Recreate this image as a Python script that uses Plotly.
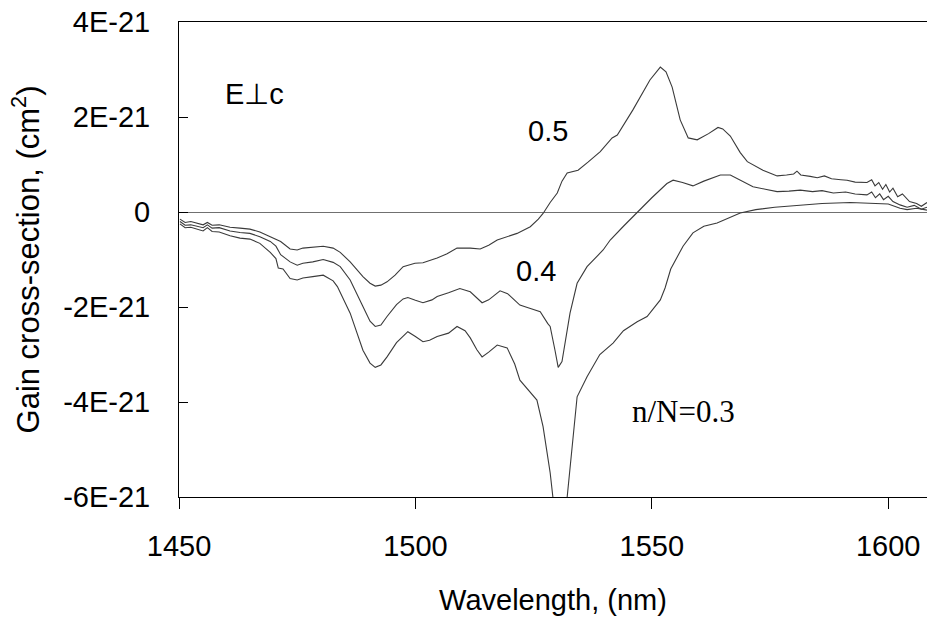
import plotly.graph_objects as go

# Wavelength (nm) and gain cross-section (units of 1E-21 cm^2)
wl_05 = [1450.2, 1451.3, 1452.5, 1454.0, 1455.1, 1456.0, 1457.0, 1458.5, 1460.8, 1462.9,
         1465.0, 1467.1, 1469.3, 1471.5, 1473.5, 1475.0, 1476.2, 1478.3, 1480.5, 1482.6,
         1484.1, 1486.2, 1488.9, 1490.4, 1491.5, 1492.7, 1494.0, 1495.7, 1497.4, 1499.9,
         1501.6, 1504.6, 1506.7, 1508.8, 1511.6, 1513.7, 1515.5, 1517.3, 1519.4, 1521.5,
         1524.3, 1526.0, 1527.0, 1528.5, 1530.0, 1531.0, 1532.1, 1533.5, 1534.4, 1536.5,
         1539.1, 1541.6, 1542.7, 1546.0, 1549.0, 1549.6, 1551.8, 1553.0, 1554.3, 1556.0,
         1557.7, 1559.6, 1562.0, 1564.0, 1565.0, 1566.6, 1568.7, 1570.2, 1573.5, 1576.5,
         1578.5, 1580.0, 1580.7, 1581.5, 1583.5, 1585.0, 1586.5, 1588.0, 1590.0, 1591.3,
         1593.0, 1595.5, 1596.5, 1597.2, 1598.0, 1598.8, 1599.5, 1600.3, 1601.0, 1602.0,
         1603.0, 1604.5, 1606.0, 1607.0, 1608.2]
g_05 = [-0.15, -0.22, -0.20, -0.24, -0.27, -0.22, -0.28, -0.27, -0.32, -0.34,
        -0.36, -0.42, -0.52, -0.62, -0.78, -0.80, -0.76, -0.74, -0.72, -0.76,
        -0.85, -1.05, -1.36, -1.50, -1.56, -1.54, -1.47, -1.33, -1.15, -1.08,
        -1.07, -0.97, -0.88, -0.76, -0.76, -0.78, -0.70, -0.59, -0.52, -0.45,
        -0.31, -0.15, -0.03, 0.20, 0.40, 0.65, 0.82, 0.85, 0.88, 1.05,
        1.27, 1.56, 1.62, 2.15, 2.65, 2.78, 3.05, 2.95, 2.63, 1.94,
        1.56, 1.52, 1.65, 1.78, 1.75, 1.60, 1.25, 1.06, 0.88, 0.76,
        0.78, 0.80, 0.86, 0.78, 0.75, 0.72, 0.76, 0.70, 0.68, 0.67,
        0.63, 0.62, 0.68, 0.55, 0.62, 0.48, 0.58, 0.42, 0.50, 0.32,
        0.38, 0.22, 0.18, 0.12, 0.20]

wl_04 = [1450.2, 1451.3, 1452.5, 1454.0, 1455.1, 1456.0, 1457.0, 1458.5, 1460.8, 1462.9,
         1465.0, 1467.1, 1469.3, 1470.5, 1471.5, 1473.5, 1475.0, 1476.2, 1478.3, 1480.5,
         1482.6, 1484.1, 1486.2, 1488.9, 1490.4, 1491.5, 1492.7, 1494.0, 1496.0, 1497.4,
         1498.4, 1500.0, 1501.6, 1503.5, 1504.6, 1507.0, 1509.4, 1511.6, 1513.0, 1514.1,
         1515.5, 1517.9, 1519.5, 1521.5, 1522.1, 1524.0, 1526.4, 1528.0, 1528.5, 1529.5,
         1530.2, 1531.0, 1531.7, 1532.7, 1534.2, 1536.3, 1539.7, 1541.2, 1544.0, 1546.9,
         1550.0, 1553.2, 1554.5, 1556.5, 1558.7, 1561.0, 1564.5, 1566.6, 1569.0, 1571.4,
         1574.0, 1576.5, 1579.0, 1581.4, 1584.0, 1586.0, 1588.4, 1591.0, 1593.0, 1595.5,
         1596.5, 1597.3, 1598.2, 1599.0, 1600.0, 1601.0, 1602.5, 1604.0, 1605.5, 1607.0,
         1608.2]
g_04 = [-0.20, -0.28, -0.27, -0.30, -0.33, -0.27, -0.34, -0.33, -0.40, -0.43,
        -0.45, -0.52, -0.62, -0.72, -0.90, -1.05, -1.12, -1.08, -1.05, -1.00,
        -1.06, -1.15, -1.43, -1.99, -2.30, -2.41, -2.38, -2.20, -1.95, -1.83,
        -1.80, -1.86, -1.91, -1.85, -1.78, -1.70, -1.61, -1.68, -1.82, -1.91,
        -1.85, -1.66, -1.72, -1.90, -1.96, -2.02, -2.10, -2.35, -2.41, -2.90,
        -3.27, -3.15, -2.70, -2.13, -1.50, -1.15, -0.80, -0.59, -0.30, 0.00,
        0.30, 0.60, 0.67, 0.62, 0.55, 0.65, 0.78, 0.78, 0.65, 0.53,
        0.48, 0.43, 0.44, 0.46, 0.43, 0.45, 0.40, 0.42, 0.38, 0.36,
        0.42, 0.30, 0.38, 0.26, 0.33, 0.22, 0.15, 0.10, 0.14, 0.06,
        0.10]

wl_03 = [1450.2, 1451.3, 1452.5, 1454.0, 1455.1, 1456.0, 1457.0, 1458.5, 1460.8, 1462.9,
         1465.0, 1467.1, 1469.3, 1470.5, 1471.0, 1472.0, 1473.5, 1475.0, 1476.2, 1478.3,
         1480.5, 1482.6, 1483.5, 1486.2, 1488.9, 1490.4, 1491.5, 1492.7, 1494.0, 1496.0,
         1498.4, 1500.0, 1501.6, 1503.0, 1504.6, 1507.0, 1508.8, 1510.5, 1511.6, 1513.0,
         1514.1, 1515.5, 1517.3, 1519.4, 1521.0, 1522.1, 1523.8, 1525.7, 1527.0, 1528.5,
         1529.3, 1530.0, 1530.6, 1531.2, 1532.1, 1534.2, 1536.3, 1539.0, 1541.8, 1544.0,
         1546.9, 1549.0, 1551.8, 1552.8, 1554.0, 1556.6, 1558.7, 1561.0, 1563.8, 1568.7,
         1572.0, 1576.0, 1581.4, 1586.0, 1592.0, 1595.5, 1598.0, 1600.0, 1602.5, 1604.0,
         1606.0, 1608.2]
g_03 = [-0.25, -0.33, -0.32, -0.36, -0.40, -0.33, -0.41, -0.42, -0.50, -0.55,
        -0.57, -0.66, -0.85, -0.98, -1.18, -1.20, -1.40, -1.43, -1.39, -1.36,
        -1.33, -1.45, -1.57, -2.13, -2.91, -3.18, -3.27, -3.22, -3.05, -2.75,
        -2.52, -2.62, -2.73, -2.70, -2.62, -2.55, -2.41, -2.50, -2.65, -2.90,
        -3.05, -2.95, -2.80, -2.86, -3.20, -3.54, -3.75, -3.96, -4.52, -5.49,
        -6.20, -7.00, -7.50, -7.00, -6.00, -3.89, -3.47, -3.00, -2.76, -2.50,
        -2.31, -2.20, -1.85, -1.60, -1.20, -0.72, -0.44, -0.30, -0.23, -0.02,
        0.05, 0.10, 0.15, 0.18, 0.20, 0.19, 0.18, 0.17, 0.08, 0.05,
        0.08, 0.04]

series = [(wl_05, g_05), (wl_04, g_04), (wl_03, g_03)]

x_ticks = [1450, 1500, 1550, 1600]
y_ticks = [-6, -4, -2, 0, 2, 4]
y_tick_text = ["-6E-21", "-4E-21", "-2E-21", "0", "2E-21", "4E-21"]

SCALE = 1e-21
SANS = "Liberation Sans, Arial, sans-serif"

fig = go.Figure()
for wl, g in series:
    fig.add_trace(go.Scatter(x=wl, y=[v * SCALE for v in g], mode="lines",
                             line=dict(color="#3a3a3a", width=1.1), showlegend=False))

labels = [("E\u22a5c", 1465.9, 2.48, SANS, 29),
          ("0.5", 1528.0, 1.70, SANS, 29),
          ("0.4", 1525.5, -1.24, SANS, 29),
          ("n/N=0.3", 1556.6, -4.19, "Liberation Serif, Times New Roman, serif", 31)]
for text, xv, yv, fam, size in labels:
    fig.add_annotation(x=xv, y=yv * SCALE, text=text, showarrow=False,
                       font=dict(family=fam, size=size, color="black"),
                       xanchor="center", yanchor="middle")

fig.update_layout(
    width=927, height=620,
    margin=dict(l=179, r=0, t=22, b=123, autoexpand=False),
    paper_bgcolor="white", plot_bgcolor="white",
    font=dict(family=SANS, size=29, color="black"),
    showlegend=False,
)
fig.update_xaxes(
    range=[1450, 1608.2], tickvals=x_ticks, ticks="outside", ticklen=11,
    tickcolor="black", showline=True, linecolor="black", linewidth=1, mirror=True,
    showgrid=False, zeroline=False, automargin=False, ticklabelstandoff=12,
    tickfont=dict(family=SANS, size=29, color="black"),
    title=dict(text="Wavelength, (nm)", font=dict(family=SANS, size=29), standoff=28),
)
fig.update_yaxes(
    range=[-6 * SCALE, 4 * SCALE], tickvals=[v * SCALE for v in y_ticks],
    ticktext=y_tick_text, ticks="inside", ticklen=9, tickcolor="black",
    showline=True, linecolor="black", linewidth=1, showgrid=False,
    zeroline=True, zerolinecolor="#707070", zerolinewidth=1,
    automargin=False, ticklabelstandoff=22,
    tickfont=dict(family=SANS, size=29, color="black"),
    title=dict(text="Gain cross-section, (cm<sup>2</sup>)", font=dict(family=SANS, size=31),
               standoff=14),
)

fig.write_html("out.html")
